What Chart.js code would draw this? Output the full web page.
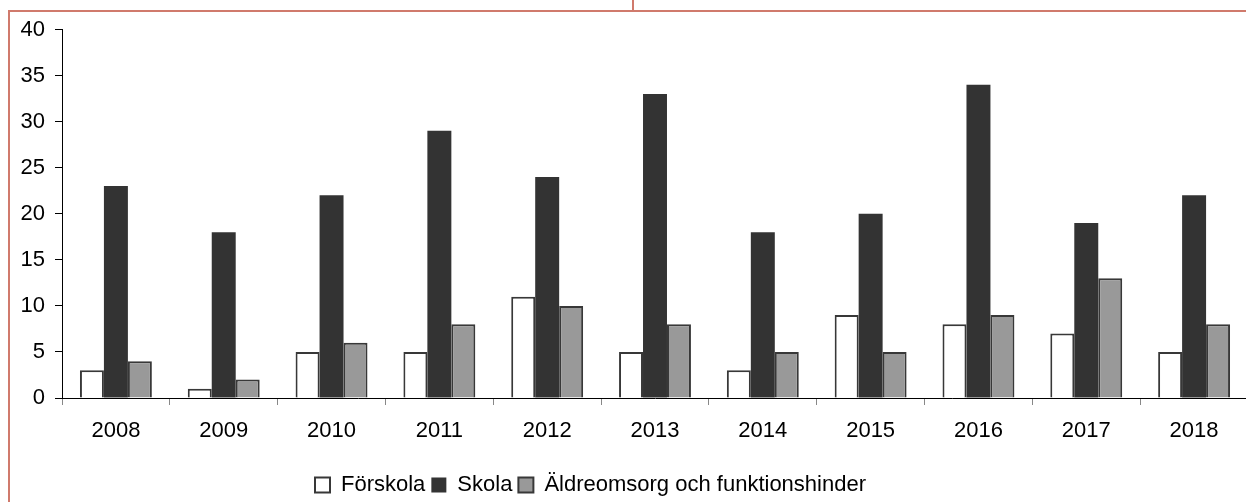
<!DOCTYPE html>
<html>
<head>
<meta charset="utf-8">
<script src="https://cdn.jsdelivr.net/npm/chart.js@4"></script>
<style>
  html, body { margin: 0; padding: 0; background: #fff; overflow: hidden; }
  #wrap { position: relative; width: 1246px; height: 502px; overflow: hidden; }
  canvas { position: absolute; left: 0; top: 0; }
</style>
</head>
<body>
<div id="wrap"><canvas id="c" width="1250" height="502"></canvas></div>
<script>
const years = ['2008','2009','2010','2011','2012','2013','2014','2015','2016','2017','2018'];
const forskola = [3, 1, 5, 5, 11, 5, 3, 9, 8, 7, 5];
const skola = [23, 18, 22, 29, 24, 33, 18, 20, 34, 19, 22];
const aldreomsorg = [4, 2, 6, 8, 10, 8, 5, 5, 9, 13, 8];
const seriesNames = ['Förskola', 'Skola', 'Äldreomsorg och funktionshinder'];
const yMin = 0, yMax = 40, yStep = 5;

const FONT = "'Liberation Sans', Arial, sans-serif";
const FS = 22;

const framePlugin = {
  id: 'frame',
  afterLayout(chart) {
    const lg = chart.legend;
    if (!lg || !lg.lineWidths) return;
    const pad = lg.options.labels.padding;
    const w = lg.width, h = lg.height;
    const targetStart = 315;
    const left = (2 * targetStart - pad + lg.lineWidths[0] - w) / 2;
    lg.left = left; lg.right = left + w;
    const itemH = Math.max(15, FS);
    const top = 485 - itemH / 2 - pad;
    lg.top = top; lg.bottom = top + h;
  },
  afterDraw(chart) {
    const ctx = chart.ctx;
    ctx.save();
    ctx.strokeStyle = '#d07a6c';
    ctx.lineWidth = 2;
    ctx.beginPath();
    ctx.moveTo(9, 11); ctx.lineTo(1250, 11);
    ctx.moveTo(9, 10); ctx.lineTo(9, 502);
    ctx.moveTo(633, 0); ctx.lineTo(633, 11);
    ctx.stroke();
    ctx.restore();
  }
};

new Chart(document.getElementById('c'), {
  type: 'bar',
  data: {
    labels: years,
    datasets: [
      { label: seriesNames[0], data: forskola, backgroundColor: '#ffffff', borderColor: '#383838', borderWidth: 2 },
      { label: seriesNames[1], data: skola, backgroundColor: '#333333', borderColor: '#333333', borderWidth: 0 },
      { label: seriesNames[2], data: aldreomsorg, backgroundColor: '#999999', borderColor: '#383838', borderWidth: 2 }
    ]
  },
  options: {
    responsive: false,
    animation: false,
    devicePixelRatio: 1,
    layout: { padding: { top: 29.5, right: 2, bottom: 0, left: 0 } },
    datasets: { bar: { barPercentage: 1, categoryPercentage: 0.667 } },
    plugins: {
      legend: {
        position: 'bottom',
        labels: {
          boxWidth: 15, boxHeight: 15, padding: 6,
          color: '#000', font: { family: FONT, size: FS }
        }
      },
      tooltip: { enabled: false }
    },
    scales: {
      x: {
        offset: true,
        grid: { offset: true, drawOnChartArea: false, drawTicks: true, tickLength: 7, color: '#888888', lineWidth: 1 },
        border: { display: true, color: '#000000', width: 1 },
        ticks: { color: '#000', font: { family: FONT, size: FS }, padding: 13, maxRotation: 0 },
        afterFit(s) { s.height = 66; }
      },
      y: {
        min: yMin, max: yMax,
        grid: { drawOnChartArea: false, drawTicks: true, tickLength: 7, color: '#000000', lineWidth: 1 },
        border: { display: true, color: '#000000', width: 1 },
        ticks: { stepSize: yStep, color: '#000', font: { family: FONT, size: FS }, padding: 10 },
        afterFit(s) { s.width = 62; }
      }
    }
  },
  plugins: [framePlugin]
});
</script>
</body>
</html>
